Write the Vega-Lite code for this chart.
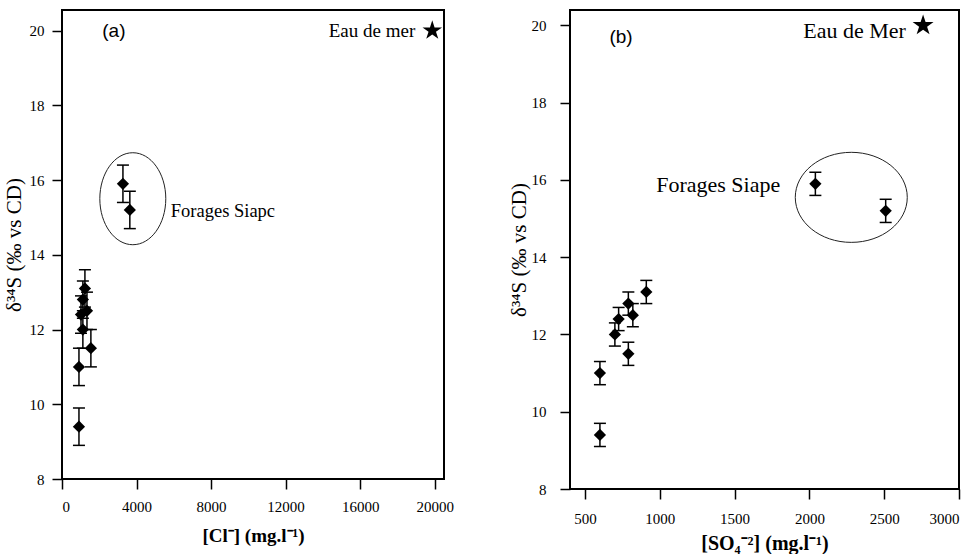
{
  "$schema": "https://vega.github.io/schema/vega-lite/v6.json",
  "background": "white",
  "padding": {"left": 2, "top": 9, "right": 5, "bottom": 0},
  "spacing": 52,
  "config": {
    "view": {"stroke": "black", "strokeWidth": 2},
    "axis": {
      "grid": false, "domain": false,
      "tickColor": "black", "tickWidth": 1.5, "tickSize": 10,
      "labelColor": "black", "labelFont": "Liberation Serif", "labelFontSize": 15,
      "titleFont": "Liberation Serif", "titleFontSize": 19, "titleFontWeight": "bold", "titleColor": "black"
    }
  },
  "datasets": {
    "a": [
      {"x": 910, "y": 9.4, "lo": 8.9, "hi": 9.9},
      {"x": 910, "y": 11.0, "lo": 10.5, "hi": 11.5},
      {"x": 1550, "y": 11.5, "lo": 11.0, "hi": 12.0},
      {"x": 1120, "y": 12.0, "lo": 11.5, "hi": 12.5},
      {"x": 1020, "y": 12.4, "lo": 11.9, "hi": 12.9},
      {"x": 1340, "y": 12.5, "lo": 12.0, "hi": 13.0},
      {"x": 1120, "y": 12.8, "lo": 12.3, "hi": 13.3},
      {"x": 1230, "y": 13.1, "lo": 12.6, "hi": 13.6},
      {"x": 3270, "y": 15.9, "lo": 15.4, "hi": 16.4},
      {"x": 3640, "y": 15.2, "lo": 14.7, "hi": 15.7}
    ],
    "b": [
      {"x": 600, "y": 9.4, "lo": 9.1, "hi": 9.7},
      {"x": 600, "y": 11.0, "lo": 10.7, "hi": 11.3},
      {"x": 790, "y": 11.5, "lo": 11.2, "hi": 11.8},
      {"x": 700, "y": 12.0, "lo": 11.7, "hi": 12.3},
      {"x": 725, "y": 12.4, "lo": 12.1, "hi": 12.7},
      {"x": 820, "y": 12.5, "lo": 12.2, "hi": 12.8},
      {"x": 790, "y": 12.8, "lo": 12.5, "hi": 13.1},
      {"x": 910, "y": 13.1, "lo": 12.8, "hi": 13.4},
      {"x": 2040, "y": 15.9, "lo": 15.6, "hi": 16.2},
      {"x": 2510, "y": 15.2, "lo": 14.9, "hi": 15.5}
    ]
  },
  "hconcat": [
    {
      "width": 382,
      "height": 469,
      "data": {"name": "a"},
      "encoding": {
        "x": {"field": "x", "type": "quantitative", "title": "[Cl⁻] (mg.l⁻¹)",
              "scale": {"domain": [0, 20500], "nice": false, "zero": false},
              "axis": {"values": [0, 4000, 8000, 12000, 16000, 20000], "format": "d", "labelPadding": 10, "titlePadding": 12}},
        "y": {"field": "y", "type": "quantitative", "title": "δ³⁴S (‰ vs CD)",
              "scale": {"domain": [8, 20.55], "nice": false, "zero": false},
              "axis": {"values": [8, 10, 12, 14, 16, 18, 20], "labelPadding": 8, "titlePadding": 5, "titleFontWeight": "normal", "titleFontSize": 21}}
      },
      "layer": [
        {
          "data": {"values": [{"x": 3800, "y": 15.5}]},
          "mark": {"type": "point", "shape": "M0.717,0 C0.717,0.5523 0.396,1 0,1 C-0.396,1 -0.717,0.5523 -0.717,0 C-0.717,-0.5523 -0.396,-1 0,-1 C0.396,-1 0.717,-0.5523 0.717,0 Z", "filled": false, "stroke": "#222", "strokeWidth": 1, "size": 8464, "opacity": 1}
        },
        {
          "mark": {"type": "rule", "color": "black", "strokeWidth": 1.5},
          "encoding": {
            "y": {"field": "lo", "type": "quantitative", "title": "δ³⁴S (‰ vs CD)"},
            "y2": {"field": "hi"}
          }
        },
        {
          "mark": {"type": "tick", "orient": "horizontal", "size": 12, "thickness": 1.5, "color": "black", "opacity": 1},
          "encoding": {"y": {"field": "lo", "type": "quantitative", "title": "δ³⁴S (‰ vs CD)"}}
        },
        {
          "mark": {"type": "tick", "orient": "horizontal", "size": 12, "thickness": 1.5, "color": "black", "opacity": 1},
          "encoding": {"y": {"field": "hi", "type": "quantitative", "title": "δ³⁴S (‰ vs CD)"}}
        },
        {
          "mark": {"type": "point", "shape": "diamond", "filled": true, "color": "black", "size": 150, "opacity": 1}
        },
        {
          "data": {"values": [{"x": 19870, "y": 20}]},
          "mark": {"type": "point", "shape": "M0,-1 L0.2245,-0.309 L0.951,-0.309 L0.363,0.118 L0.588,0.809 L0,0.382 L-0.588,0.809 L-0.363,0.118 L-0.951,-0.309 L-0.2245,-0.309 Z", "filled": true, "color": "black", "size": 420, "opacity": 1}
        },
        {
          "data": {"values": [{"x": 2785, "y": 20, "label": "(a)"}]},
          "mark": {"type": "text", "font": "Liberation Sans", "fontSize": 19, "align": "center", "baseline": "middle", "color": "black"},
          "encoding": {"text": {"field": "label"}}
        },
        {
          "data": {"values": [{"x": 18956, "y": 20, "label": "Eau de mer"}]},
          "mark": {"type": "text", "font": "Liberation Serif", "fontSize": 19, "align": "right", "baseline": "middle", "color": "black"},
          "encoding": {"text": {"field": "label"}}
        },
        {
          "data": {"values": [{"x": 5837, "y": 15.18, "label": "Forages Siapc"}]},
          "mark": {"type": "text", "font": "Liberation Serif", "fontSize": 18.5, "align": "left", "baseline": "middle", "color": "black"},
          "encoding": {"text": {"field": "label"}}
        }
      ]
    },
    {
      "width": 389,
      "height": 479,
      "data": {"name": "b"},
      "encoding": {
        "x": {"field": "x", "type": "quantitative", "title": "[SO₄⁻²] (mg.l⁻¹)",
              "scale": {"domain": [400, 3000], "nice": false, "zero": false},
              "axis": {"values": [500, 1000, 1500, 2000, 2500, 3000], "format": "d", "labelPadding": 12, "titlePadding": 7, "titleFontSize": 20}},
        "y": {"field": "y", "type": "quantitative", "title": "δ³⁴S (‰ vs CD)",
              "scale": {"domain": [8, 20.4], "nice": false, "zero": false},
              "axis": {"values": [8, 10, 12, 14, 16, 18, 20], "labelPadding": 14, "titlePadding": 2, "titleFontWeight": "normal", "titleFontSize": 21}}
      },
      "layer": [
        {
          "data": {"values": [{"x": 2280, "y": 15.55}]},
          "mark": {"type": "point", "shape": "M1,0 C1,0.444 0.5523,0.804 0,0.804 C-0.5523,0.804 -1,0.444 -1,0 C-1,-0.444 -0.5523,-0.804 0,-0.804 C0.5523,-0.804 1,-0.444 1,0 Z", "filled": false, "stroke": "#222", "strokeWidth": 1, "size": 12544, "opacity": 1}
        },
        {
          "mark": {"type": "rule", "color": "black", "strokeWidth": 1.5},
          "encoding": {
            "y": {"field": "lo", "type": "quantitative", "title": "δ³⁴S (‰ vs CD)"},
            "y2": {"field": "hi"}
          }
        },
        {
          "mark": {"type": "tick", "orient": "horizontal", "size": 12, "thickness": 1.5, "color": "black", "opacity": 1},
          "encoding": {"y": {"field": "lo", "type": "quantitative", "title": "δ³⁴S (‰ vs CD)"}}
        },
        {
          "mark": {"type": "tick", "orient": "horizontal", "size": 12, "thickness": 1.5, "color": "black", "opacity": 1},
          "encoding": {"y": {"field": "hi", "type": "quantitative", "title": "δ³⁴S (‰ vs CD)"}}
        },
        {
          "mark": {"type": "point", "shape": "diamond", "filled": true, "color": "black", "size": 150, "opacity": 1}
        },
        {
          "data": {"values": [{"x": 2760, "y": 20}]},
          "mark": {"type": "point", "shape": "M0,-1 L0.2245,-0.309 L0.951,-0.309 L0.363,0.118 L0.588,0.809 L0,0.382 L-0.588,0.809 L-0.363,0.118 L-0.951,-0.309 L-0.2245,-0.309 Z", "filled": true, "color": "black", "size": 484, "opacity": 1}
        },
        {
          "data": {"values": [{"x": 741, "y": 19.7, "label": "(b)"}]},
          "mark": {"type": "text", "font": "Liberation Sans", "fontSize": 19, "align": "center", "baseline": "middle", "color": "black"},
          "encoding": {"text": {"field": "label"}}
        },
        {
          "data": {"values": [{"x": 2645, "y": 19.86, "label": "Eau de Mer"}]},
          "mark": {"type": "text", "font": "Liberation Serif", "fontSize": 22, "align": "right", "baseline": "middle", "color": "black"},
          "encoding": {"text": {"field": "label"}}
        },
        {
          "data": {"values": [{"x": 976, "y": 15.88, "label": "Forages Siape"}]},
          "mark": {"type": "text", "font": "Liberation Serif", "fontSize": 22, "align": "left", "baseline": "middle", "color": "black"},
          "encoding": {"text": {"field": "label"}}
        }
      ]
    }
  ]
}
